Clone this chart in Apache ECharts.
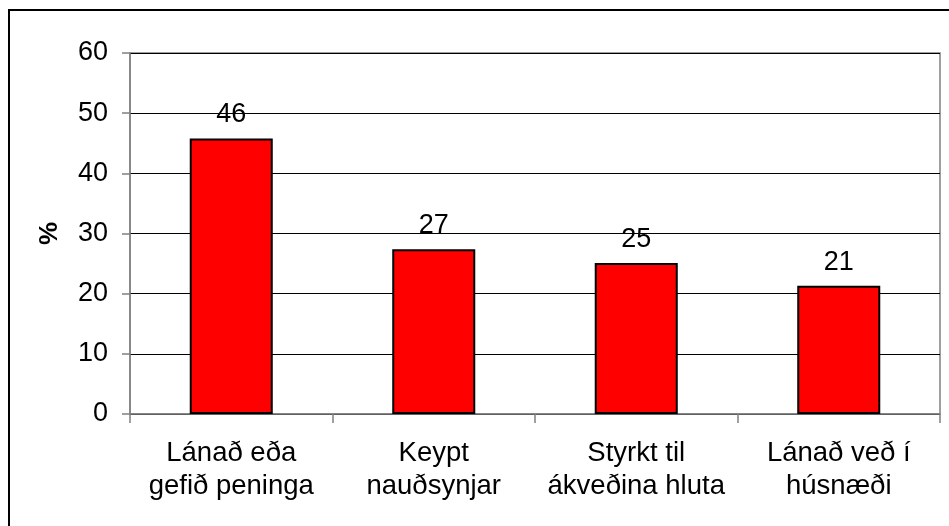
<!DOCTYPE html>
<html>
<head>
<meta charset="utf-8">
<script src="https://cdn.jsdelivr.net/npm/echarts@6/dist/echarts.min.js"></script>
<style>
  html, body { margin: 0; padding: 0; background: #fff; }
  #chart { width: 949px; height: 526px; }
</style>
</head>
<body>
<div id="chart"></div>
<script>
// data
const categories = ['Lánað eða\ngefið peninga', 'Keypt\nnauðsynjar', 'Styrkt til\nákveðina hluta', 'Lánað veð í\nhúsnæði'];
const values = [45.8, 27.4, 25.1, 21.3];
const yTicks = [0, 10, 20, 30, 40, 50, 60];

const font = 'Liberation Sans, Arial, sans-serif';
const myChart = echarts.init(document.getElementById('chart'));

const option = {
    animation: false,
    backgroundColor: '#fff',
    textStyle: { fontFamily: font, color: '#000' },
    graphic: [{
        // outer frame, cut off at right and bottom like the original
        type: 'rect',
        shape: { x: 9, y: 10, width: 1000, height: 600 },
        style: { fill: 'none', stroke: '#000', lineWidth: 2 },
        silent: true
    }],
    grid: {
        left: 130, right: 9, top: 53, bottom: 112,
        show: true,
        borderColor: '#808080',
        borderWidth: 1.5
    },
    xAxis: {
        type: 'category',
        data: categories,
        axisLine: { lineStyle: { color: '#808080', width: 1.5 } },
        axisTick: { show: true, length: 9, alignWithLabel: false, lineStyle: { color: '#808080', width: 1.5 } },
        axisLabel: {
            interval: 0,
            margin: 23,
            fontSize: 27.5,
            lineHeight: 33,
            color: '#000',
            fontFamily: font
        }
    },
    yAxis: {
        type: 'value',
        min: yTicks[0],
        max: yTicks[yTicks.length - 1],
        interval: 10,
        name: '%',
        nameLocation: 'middle',
        nameRotate: 90,
        nameGap: 67,
        nameTextStyle: { fontSize: 26, fontWeight: 'bold', color: '#000', fontFamily: font },
        axisLine: { show: true, lineStyle: { color: '#808080', width: 1.5 } },
        axisTick: { show: true, length: 8, lineStyle: { color: '#808080', width: 1.5 } },
        axisLabel: { margin: 22, fontSize: 27, color: '#000', fontFamily: font },
        splitLine: { show: true, lineStyle: { color: '#000', width: 1 } }
    },
    series: [{
        type: 'bar',
        data: values,
        barWidth: '41%',
        itemStyle: { color: '#ff0000', borderColor: '#000', borderWidth: 2 },
        label: {
            show: true,
            position: 'top',
            distance: 10,
            fontSize: 27,
            color: '#000',
            fontFamily: font,
            formatter: p => Math.round(p.value)
        }
    }]
};

myChart.setOption(option);

window.addEventListener('resize', function() {
    myChart.resize();
});
</script>
</body>
</html>
